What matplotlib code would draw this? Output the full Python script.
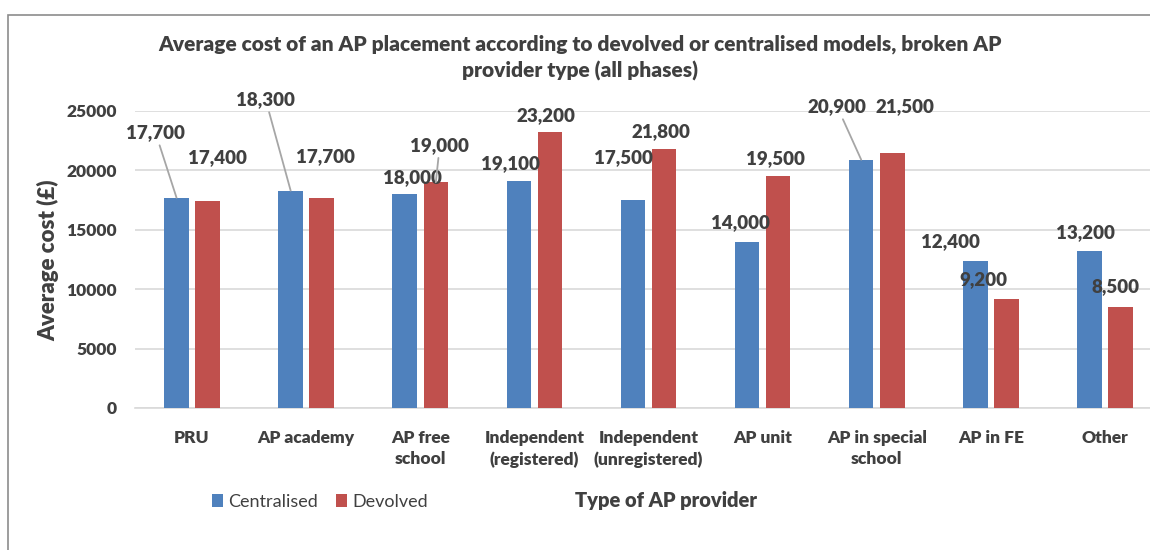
import matplotlib
matplotlib.use("Agg")
import matplotlib.pyplot as plt
from matplotlib.patches import Rectangle
import numpy as np

categories = ["PRU", "AP academy", "AP free\nschool", "Independent\n(registered)",
              "Independent\n(unregistered)", "AP unit", "AP in special\nschool", "AP in FE", "Other"]
centralised = [17700, 18300, 18000, 19100, 17500, 14000, 20900, 12400, 13200]
devolved = [17400, 17700, 19000, 23200, 21800, 19500, 21500, 9200, 8500]
series_names = ["Centralised", "Devolved"]
title = "Average cost of an AP placement according to devolved or centralised models, broken AP\nprovider type (all phases)"
xlabel = "Type of AP provider"
ylabel = "Average cost (£)"

# label offsets in pixels (dx, dy, leader line)
off_c = [(-21, 65, True), (-25, 91, True), (8, 17, False), (-8, 17, False), (-10, 43, False),
         (-7, 19, False), (-24, 53, True), (-25, 19, False), (-4, 19, False)]
off_d = [(10, 44, False), (4, 41, False), (4, 37, True), (-4, 17, False), (-3, 17, False),
         (-3, 18, False), (13, 46, False), (-23, 19, False), (-5, 20, False)]

plt.rcParams['font.family'] = ['Lato', 'DejaVu Sans']
TXT = "#404040"
BLUE = "#4F81BD"
RED = "#C0504D"
HEAVY = 800

W, H = 1150, 550
fig = plt.figure(figsize=(W / 100, H / 100), dpi=100)
ax = fig.add_axes([135 / W, (H - 408) / H, 1027 / W, 297 / H])

x = np.arange(len(categories))
bw = 0.215
off = 0.136
b1 = ax.bar(x - off, centralised, bw, color=BLUE, label=series_names[0], zorder=3)
b2 = ax.bar(x + off, devolved, bw, color=RED, label=series_names[1], zorder=3)

ax.set_xlim(-0.5, len(categories) - 0.5)
ax.set_ylim(0, 25000)
ax.set_yticks(np.arange(0, 25001, 5000))
ax.yaxis.grid(True, color="#D9D9D9", linewidth=1.2, zorder=0)
ax.set_axisbelow(True)
for s in ["top", "right", "left"]:
    ax.spines[s].set_visible(False)
ax.spines["bottom"].set_color("#D9D9D9")
ax.spines["bottom"].set_linewidth(1.2)
ax.tick_params(axis="both", length=0, labelsize=12.5, colors=TXT)
ax.tick_params(axis="y", pad=13)
ax.tick_params(axis="x", pad=16)
ax.set_xticks(x)
ax.set_xticklabels(categories, fontweight=HEAVY, color=TXT, linespacing=1.35)
for lab in ax.get_yticklabels():
    lab.set_fontweight(HEAVY)

def label(xs, vals, offs):
    for xi, v, (dx, dy, lead) in zip(xs, vals, offs):
        kw = {}
        if lead:
            kw["arrowprops"] = dict(arrowstyle="-", color="#A6A6A6", lw=1.3, shrinkA=1, shrinkB=0)
        ax.annotate(f"{v:,}", xy=(xi, v), xytext=(dx, dy), textcoords="offset pixels",
                    ha="center", va="center", fontsize=13.5, fontweight=HEAVY, color=TXT,
                    zorder=5, **kw)

label(x - off, centralised, off_c)
label(x + off, devolved, off_d)

fig.text(580 / W, 1 - 58 / H, title, ha="center", va="center", fontsize=15,
         fontweight=HEAVY, color=TXT, linespacing=1.4)
fig.text(48 / W, 1 - 260 / H, ylabel, rotation=90, ha="center", va="center",
         fontsize=16, fontweight=HEAVY, color=TXT)
fig.text(666 / W, 1 - 500 / H, xlabel, ha="center", va="center",
         fontsize=14.5, fontweight=HEAVY, color=TXT)

leg = fig.legend(handles=[b1, b2], loc="center", bbox_to_anchor=(320 / W, 1 - 502 / H),
                 ncol=2, frameon=False, fontsize=13, handlelength=0.6, handleheight=0.7,
                 handletextpad=0.3, columnspacing=1.0)
for t in leg.get_texts():
    t.set_color(TXT)

fig.patches.append(Rectangle((8 / W, -0.1), 1.2, 1 - 15 / H + 0.1, transform=fig.transFigure,
                             fill=False, edgecolor="#8C8C8C", linewidth=1.2))

fig.savefig("out.png", dpi=100)
